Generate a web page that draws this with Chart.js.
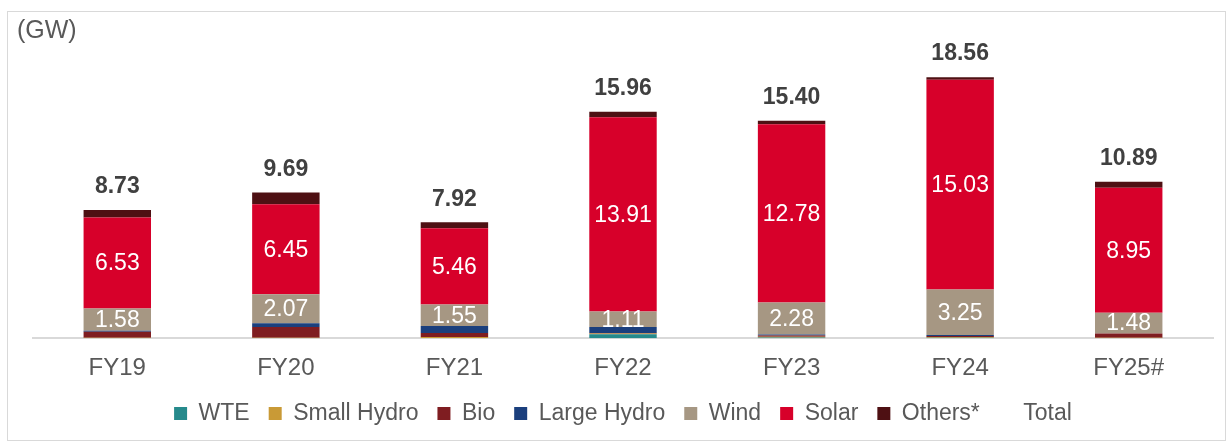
<!DOCTYPE html>
<html>
<head>
<meta charset="utf-8">
<script src="https://cdn.jsdelivr.net/npm/chart.js@4"></script>
<style>
    body { margin: 0; background: #fff; }
    #wrap {
        position: absolute;
        left: 7px; top: 11px;
        width: 1219px; height: 430px;
        box-sizing: border-box;
        border: 1px solid #d9d9d9;
    }
</style>
</head>
<body>
<div id="wrap"><canvas id="capacityChart"></canvas></div>
<script>
// Yearly capacity addition (GW)
const categories = ['FY19', 'FY20', 'FY21', 'FY22', 'FY23', 'FY24', 'FY25#'];
const wte        = [0, 0, 0, 0.29, 0.05, 0.03, 0];
const smallHydro = [0.04, 0.04, 0.08, 0.04, 0.06, 0.05, 0.03];
const bio        = [0.43, 0.77, 0.29, 0.04, 0.08, 0.08, 0.31];
const largeHydro = [0.07, 0.26, 0.50, 0.43, 0.08, 0.07, 0];
const wind       = [1.58, 2.07, 1.55, 1.11, 2.28, 3.25, 1.48];
const solar      = [6.53, 6.45, 5.46, 13.91, 12.78, 15.03, 8.95];
const others     = [0.54, 0.84, 0.43, 0.41, 0.24, 0.19, 0.43];
const totals     = [8.73, 9.69, 7.92, 15.96, 15.40, 18.56, 10.89];

const FONT = '"Liberation Sans", Arial, sans-serif';
const GREY = '#595959';

function barSet(label, data, color) {
    return {
        type: 'bar',
        label: label,
        data: data,
        backgroundColor: color,
        borderWidth: 0,
        stack: 'mix',
        categoryPercentage: 1,
        barPercentage: 0.4
    };
}

// Labels inside the solar and wind segments, totals above each stack, unit text
const labelPlugin = {
    id: 'labels',
    afterDatasetsDraw(chart) {
        const ctx = chart.ctx;
        ctx.save();
        ctx.textAlign = 'center';
        ctx.textBaseline = 'middle';

        ctx.fillStyle = '#ffffff';
        ctx.font = '23px ' + FONT;
        [4, 5].forEach(di => {
            const values = chart.data.datasets[di].data;
            chart.getDatasetMeta(di).data.forEach((bar, i) => {
                ctx.fillText(values[i].toFixed(2), bar.x, (bar.y + bar.base) / 2 + 1);
            });
        });

        ctx.fillStyle = '#404040';
        ctx.font = 'bold 23px ' + FONT;
        const topMeta = chart.getDatasetMeta(6);
        const totalData = chart.data.datasets[7].data;
        topMeta.data.forEach((bar, i) => {
            ctx.fillText(totalData[i].toFixed(2), bar.x, bar.y - 23);
        });

        ctx.textAlign = 'left';
        ctx.fillStyle = GREY;
        ctx.font = '25px ' + FONT;
        ctx.fillText('(GW)', 9, 19);
        ctx.restore();
    }
};

new Chart(document.getElementById('capacityChart'), {
    data: {
        labels: categories,
        datasets: [
            barSet('WTE', wte, '#268a8c'),
            barSet('Small Hydro', smallHydro, '#c99a36'),
            barSet('Bio', bio, '#7f1d21'),
            barSet('Large Hydro', largeHydro, '#1b3f7d'),
            barSet('Wind', wind, '#a69783'),
            barSet('Solar', solar, '#d7002a'),
            barSet('Others*', others, '#4e1013'),
            {
                type: 'line',
                label: 'Total',
                data: totals,
                showLine: false,
                pointRadius: 0,
                backgroundColor: 'rgba(0,0,0,0)',
                borderColor: 'rgba(0,0,0,0)',
                borderWidth: 0
            }
        ]
    },
    options: {
        responsive: true,
        maintainAspectRatio: false,
        animation: false,
        layout: {
            padding: { left: 25, right: 12, top: 47, bottom: 5 }
        },
        scales: {
            x: {
                stacked: true,
                grid: { display: false, drawTicks: false },
                border: { display: true, color: '#d9d9d9', width: 2 },
                ticks: {
                    color: GREY,
                    padding: 16,
                    font: { family: FONT, size: 24 }
                },
                afterFit(scale) {
                    scale.height -= 16;
                }
            },
            y: {
                stacked: true,
                display: false,
                min: 0,
                max: 20
            }
        },
        plugins: {
            legend: {
                position: 'bottom',
                labels: {
                    color: GREY,
                    boxWidth: 13,
                    boxHeight: 13,
                    padding: 19,
                    font: { family: FONT, size: 23 }
                }
            },
            tooltip: { enabled: false }
        }
    },
    plugins: [labelPlugin]
});
</script>
</body>
</html>
